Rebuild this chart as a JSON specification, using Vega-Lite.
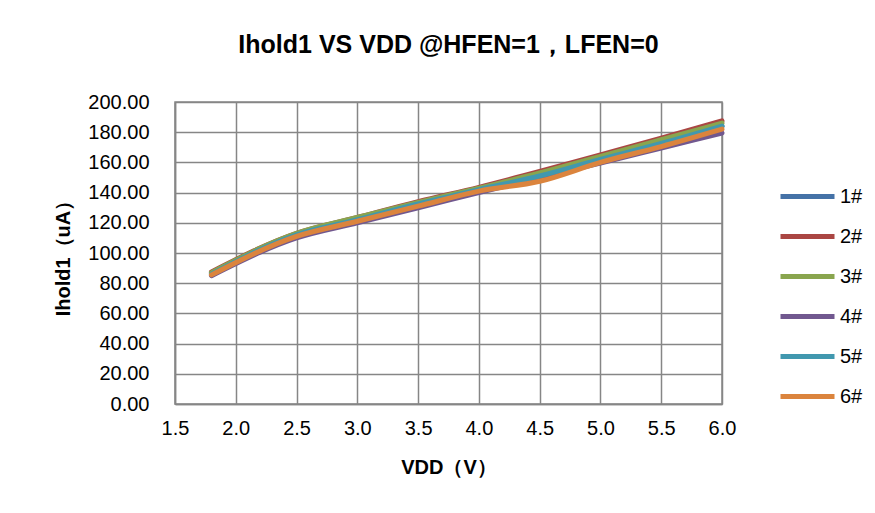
{
  "$schema": "https://vega.github.io/schema/vega-lite/v6.json",
  "width": 547,
  "height": 302,
  "autosize": {"type": "none"},
  "padding": {"left": 175, "top": 102, "right": 153, "bottom": 109},
  "background": "white",
  "title": {
    "text": "Ihold1 VS VDD @HFEN=1，LFEN=0",
    "font": "Liberation Sans",
    "fontSize": 25,
    "fontWeight": "bold",
    "color": "#000000",
    "anchor": "middle",
    "offset": 34
  },
  "data": {
    "values": [
      {"vdd": 1.8, "ihold": 86.5, "chip": "1#"},
      {"vdd": 2.5, "ihold": 112, "chip": "1#"},
      {"vdd": 3.0, "ihold": 122, "chip": "1#"},
      {"vdd": 3.5, "ihold": 132, "chip": "1#"},
      {"vdd": 4.0, "ihold": 142, "chip": "1#"},
      {"vdd": 4.5, "ihold": 152, "chip": "1#"},
      {"vdd": 5.0, "ihold": 163, "chip": "1#"},
      {"vdd": 5.5, "ihold": 173, "chip": "1#"},
      {"vdd": 6.0, "ihold": 184, "chip": "1#"},
      {"vdd": 1.8, "ihold": 87.5, "chip": "2#"},
      {"vdd": 2.5, "ihold": 113, "chip": "2#"},
      {"vdd": 3.0, "ihold": 123.5, "chip": "2#"},
      {"vdd": 3.5, "ihold": 134, "chip": "2#"},
      {"vdd": 4.0, "ihold": 143.5, "chip": "2#"},
      {"vdd": 4.5, "ihold": 154, "chip": "2#"},
      {"vdd": 5.0, "ihold": 165, "chip": "2#"},
      {"vdd": 5.5, "ihold": 176, "chip": "2#"},
      {"vdd": 6.0, "ihold": 187.5, "chip": "2#"},
      {"vdd": 1.8, "ihold": 87, "chip": "3#"},
      {"vdd": 2.5, "ihold": 113, "chip": "3#"},
      {"vdd": 3.0, "ihold": 123.5, "chip": "3#"},
      {"vdd": 3.5, "ihold": 133.5, "chip": "3#"},
      {"vdd": 4.0, "ihold": 143, "chip": "3#"},
      {"vdd": 4.5, "ihold": 153, "chip": "3#"},
      {"vdd": 5.0, "ihold": 164, "chip": "3#"},
      {"vdd": 5.5, "ihold": 175, "chip": "3#"},
      {"vdd": 6.0, "ihold": 186, "chip": "3#"},
      {"vdd": 1.8, "ihold": 85, "chip": "4#"},
      {"vdd": 2.5, "ihold": 110, "chip": "4#"},
      {"vdd": 3.0, "ihold": 120, "chip": "4#"},
      {"vdd": 3.5, "ihold": 130, "chip": "4#"},
      {"vdd": 4.0, "ihold": 140, "chip": "4#"},
      {"vdd": 4.5, "ihold": 150, "chip": "4#"},
      {"vdd": 5.0, "ihold": 159.5, "chip": "4#"},
      {"vdd": 5.5, "ihold": 169.5, "chip": "4#"},
      {"vdd": 6.0, "ihold": 179.5, "chip": "4#"},
      {"vdd": 1.8, "ihold": 86, "chip": "5#"},
      {"vdd": 2.5, "ihold": 112, "chip": "5#"},
      {"vdd": 3.0, "ihold": 122, "chip": "5#"},
      {"vdd": 3.5, "ihold": 132.5, "chip": "5#"},
      {"vdd": 4.0, "ihold": 142, "chip": "5#"},
      {"vdd": 4.5, "ihold": 151, "chip": "5#"},
      {"vdd": 5.0, "ihold": 162, "chip": "5#"},
      {"vdd": 5.5, "ihold": 172.5, "chip": "5#"},
      {"vdd": 6.0, "ihold": 184, "chip": "5#"},
      {"vdd": 1.8, "ihold": 85.5, "chip": "6#"},
      {"vdd": 2.5, "ihold": 111, "chip": "6#"},
      {"vdd": 3.0, "ihold": 121, "chip": "6#"},
      {"vdd": 3.5, "ihold": 131, "chip": "6#"},
      {"vdd": 4.0, "ihold": 141, "chip": "6#"},
      {"vdd": 4.5, "ihold": 147.5, "chip": "6#"},
      {"vdd": 5.0, "ihold": 160, "chip": "6#"},
      {"vdd": 5.5, "ihold": 170.5, "chip": "6#"},
      {"vdd": 6.0, "ihold": 182, "chip": "6#"}
    ]
  },
  "mark": {"type": "line", "strokeWidth": 5, "strokeCap": "round", "strokeJoin": "round", "interpolate": "monotone"},
  "encoding": {
    "x": {
      "field": "vdd",
      "type": "quantitative",
      "scale": {"domain": [1.5, 6.0], "nice": false, "zero": false},
      "axis": {
        "title": "VDD（V）",
        "values": [1.5, 2.0, 2.5, 3.0, 3.5, 4.0, 4.5, 5.0, 5.5, 6.0],
        "format": ".1f",
        "labelFont": "Liberation Sans",
        "labelFontSize": 20,
        "labelColor": "#000000",
        "labelPadding": 14,
        "labelFlush": false,
        "labelOverlap": false,
        "ticks": false,
        "domainColor": "#868686",
        "domainWidth": 1.5,
        "gridColor": "#868686",
        "gridWidth": 1.5,
        "titleFont": "Liberation Sans",
        "titleFontSize": 20,
        "titleFontWeight": "bold",
        "titleColor": "#000000",
        "titlePadding": 19
      }
    },
    "y": {
      "field": "ihold",
      "type": "quantitative",
      "scale": {"domain": [0, 200], "nice": false},
      "axis": {
        "title": "Ihold1（uA）",
        "values": [0, 20, 40, 60, 80, 100, 120, 140, 160, 180, 200],
        "format": ".2f",
        "labelFont": "Liberation Sans",
        "labelFontSize": 20,
        "labelColor": "#000000",
        "labelPadding": 26,
        "labelOverlap": false,
        "labelFlush": false,
        "ticks": false,
        "domainColor": "#868686",
        "domainWidth": 1.5,
        "gridColor": "#868686",
        "gridWidth": 1.5,
        "titleFont": "Liberation Sans",
        "titleFontSize": 20,
        "titleFontWeight": "bold",
        "titleColor": "#000000",
        "titlePadding": 14
      }
    },
    "color": {
      "field": "chip",
      "type": "nominal",
      "scale": {
        "domain": ["1#", "2#", "3#", "4#", "5#", "6#"],
        "range": ["#4572A7", "#AA4643", "#89A54E", "#71588F", "#4198AF", "#DB843D"]
      },
      "legend": {
        "title": null,
        "orient": "none",
        "legendX": 603,
        "legendY": 65,
        "symbolType": "stroke",
        "symbolSize": 2916,
        "symbolStrokeWidth": 5,
        "rowPadding": -14.4,
        "labelFont": "Liberation Sans",
        "labelFontSize": 20,
        "labelColor": "#000000",
        "labelOffset": 3
      }
    }
  },
  "config": {
    "view": {"stroke": "#868686", "strokeWidth": 1.5}
  }
}
